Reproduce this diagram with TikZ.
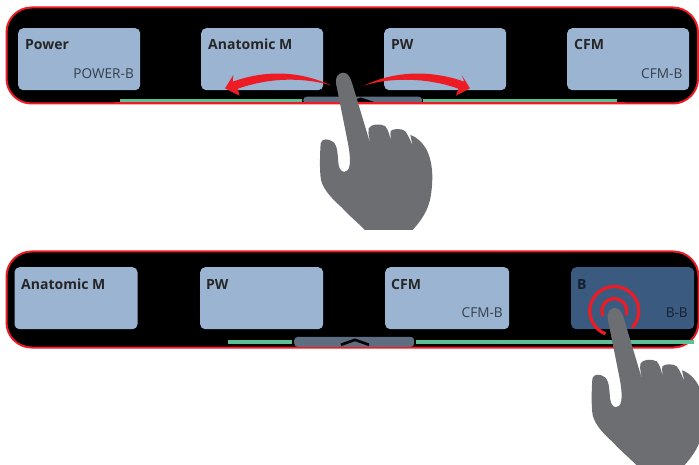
\documentclass[tikz,border=0pt]{standalone}
\usepackage{fontspec}
\setmainfont{Open Sans}
\definecolor{panelred}{HTML}{ED1C24}
\definecolor{btnblue}{HTML}{9AB4D2}
\definecolor{btndark}{HTML}{3A5A80}
\definecolor{handgray}{HTML}{6D6E71}
\definecolor{barcol}{HTML}{5E6E80}
\definecolor{greenline}{HTML}{5CBF95}
\definecolor{darktext}{HTML}{14202E}
\tikzset{
  panel/.style={draw=panelred,line width=2pt,fill=black,rounded corners=25pt},
  btnbox/.style={rectangle,draw=none,fill=btnblue,rounded corners=5pt,minimum width=122pt,minimum height=62pt,inner sep=0pt,anchor=north west},
  titletext/.style={font=\bfseries\fontsize{14}{16}\selectfont,text=black!85,inner sep=0pt,anchor=base west},
  subtext/.style={font=\fontsize{13.6}{15}\selectfont,text=black!65!btnblue,inner sep=0pt,anchor=base east},
  handlebar/.style={rectangle,fill=barcol,rounded corners=3.5pt,inner sep=0pt,anchor=north west},
  greenbar/.style={fill=greenline,draw=none},
  handshape/.style={fill=handgray,draw=none},
  redarc/.style={fill=panelred,draw=none},
  ringline/.style={draw=panelred,line width=3.2pt}
}
\newcommand{\handpath}{%
  \fill[handshape,scale=1/3] (430,218)
   .. controls (445,218) and (452,235) .. (458,255)
   -- (512,435)
   .. controls (510,420) and (503,405) .. (506,385)
   .. controls (512,372) and (540,370) .. (555,378)
   .. controls (565,388) and (572,415) .. (575,435)
   .. controls (573,420) and (570,405) .. (572,393)
   .. controls (580,385) and (605,385) .. (615,393)
   .. controls (625,405) and (632,425) .. (638,437)
   .. controls (636,425) and (632,415) .. (631,405)
   .. controls (655,412) and (680,440) .. (688,470)
   .. controls (698,500) and (700,540) .. (692,590)
   .. controls (685,630) and (665,660) .. (638,690)
   -- (495,690)
   .. controls (470,665) and (440,640) .. (425,622)
   .. controls (400,600) and (370,570) .. (363,540)
   .. controls (358,510) and (360,460) .. (362,430)
   .. controls (365,415) and (385,415) .. (400,426)
   .. controls (415,440) and (412,470) .. (416,495)
   .. controls (420,520) and (445,525) .. (449,495)
   .. controls (452,470) and (446,440) .. (440,410)
   -- (408,250)
   .. controls (405,232) and (415,218) .. (430,218) -- cycle;}
\begin{document}
\begin{tikzpicture}[x=1pt,y=-1pt]
\useasboundingbox (0,0) rectangle (699,465);
\clip (0,0) rectangle (699,465);
\draw[panel] (6.5,7.5) rectangle (698,103.5);
\draw[panel] (6.5,251.5) rectangle (698.5,347.5);
\node[btnbox] (a1) at (18,28) {};
\node[btnbox] (a2) at (201,28) {};
\node[btnbox] (a3) at (384,28) {};
\node[btnbox] (a4) at (567,28) {};
\node[titletext] (a1t) at (25,50) {Power};
\node[subtext] (a1s) at (134,78.5) {POWER-B};
\node[titletext] (a2t) at (208,50) {Anatomic M};
\node[titletext] (a3t) at (391,50) {PW};
\node[titletext] (a4t) at (574,50) {CFM};
\node[subtext] (a4s) at (682.5,78.5) {CFM-B};
\fill[greenbar] (120,99.5) rectangle (302,102.5);
\fill[greenbar] (423,99.5) rectangle (617,102.5);
\node[handlebar,minimum width=119pt,minimum height=7pt] (h1) at (303,96.5) {};
\fill[black] (345,103) -- (361,97.5) -- (377,103) -- cycle;
\draw[panelred,line width=2pt] (115,103.5) -- (625,103.5);
% bottom
\node[btnbox,minimum width=123pt] (b1) at (14.3,267) {};
\node[btnbox,minimum width=123pt] (b2) at (200,267) {};
\node[btnbox,minimum width=124pt] (b3) at (385,267) {};
\node[btnbox,minimum width=123pt,fill=btndark] (b4) at (571,267) {};
\node[titletext] (b1t) at (21,289) {Anatomic M};
\node[titletext] (b2t) at (206,289) {PW};
\node[titletext] (b3t) at (391,289) {CFM};
\node[titletext,text=darktext] (b4t) at (577,289) {B};
\node[subtext] (b3s) at (503,317.5) {CFM-B};
\node[subtext,text=darktext] (b4s) at (688,317.5) {B-B};
\fill[greenbar] (228,340) rectangle (292,343.5);
\fill[greenbar] (416,340) rectangle (694,343.5);
\node[handlebar,minimum width=120pt,minimum height=10pt] (h2) at (294,336.7) {};
\draw[black,line width=2.6pt] (341,344.8) -- (355,339.8) -- (369,344.8);
% arrows of the swipe
\begin{scope}[shift={(200,0)},scale=1/3]
\fill[redarc] (393,256) .. controls (310,218) and (210,205) .. (98,245)
  -- (100,225) -- (75,265) -- (118,287) -- (114,266)
  .. controls (210,232) and (310,232) .. (393,256) -- cycle;
\fill[redarc] (492,257) .. controls (570,218) and (680,205) .. (793,245)
  -- (785,225) -- (810,265) -- (768,287) -- (775,266)
  .. controls (680,232) and (570,232) .. (492,257) -- cycle;
\end{scope}
% target rings
\coordinate (ringc) at (614.3,311);
\draw[ringline] ([shift={(111:24.5)}]ringc) arc (111:403:24.5);
\draw[ringline] ([shift={(156:12.5)}]ringc) arc (156:379:12.5);
% hands
\begin{scope}[shift={(200,0)}]\handpath\end{scope}
\begin{scope}[shift={(471.7,235.3)}]\handpath\end{scope}
\end{tikzpicture}
\end{document}
